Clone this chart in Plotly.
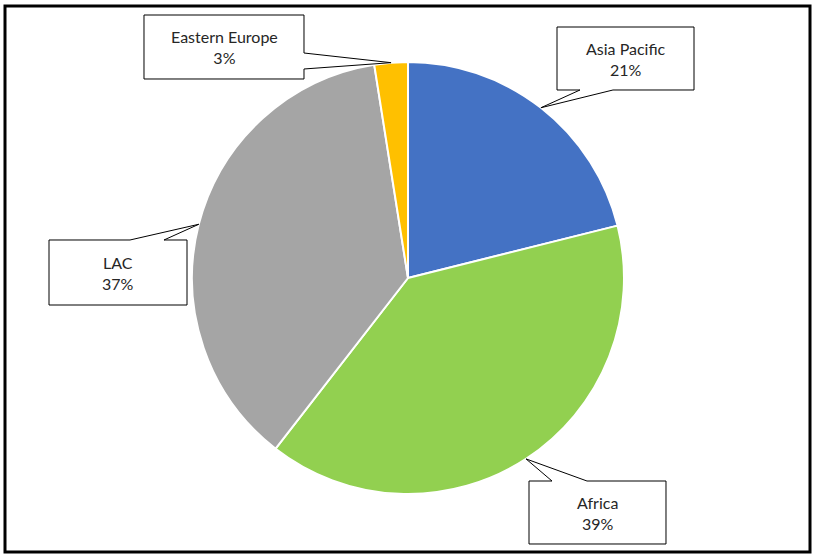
"""Pie chart with wedge callout labels, Excel style."""

import math

import plotly.graph_objects as go

W, H = 814, 555

regions = ["Asia Pacific", "Africa", "LAC", "Eastern Europe"]
shares = [21.1, 39.4, 37.0, 2.5]
colors = ["#4472C4", "#92D050", "#A5A5A5", "#FFC000"]

# pie geometry in pixels
CX, CY, R = 408, 278, 216

# callout boxes: (x0, y0, x1, y1), edge carrying the wedge, wedge base span along that edge
callouts = {
    "Asia Pacific": ((557, 27, 694, 90), "bottom", (580, 613)),
    "Africa": ((529, 481, 666, 544), "top", (552, 587)),
    "LAC": ((49, 240, 187, 305), "top", (130, 164)),
    "Eastern Europe": ((144, 15, 304, 79), "right", (53, 69)),
}


def px(x):
    return x / W


def py(y):
    return 1 - y / H


def pct_text(v, total):
    return f"{int(v / total * 100 + 0.5)}%"


fig = go.Figure(
    go.Pie(
        labels=regions,
        values=shares,
        sort=False,
        direction="clockwise",
        rotation=0,
        marker=dict(colors=colors, line=dict(color="white", width=2)),
        textinfo="none",
        hoverinfo="label+percent",
        domain=dict(x=[px(CX - R), px(CX + R)], y=[py(CY + R), py(CY - R)]),
        showlegend=False,
    )
)

total = sum(shares)
shapes = []
annotations = []
start = 0.0
for name, v in zip(regions, shares):
    sweep = v / total * 360
    mid = math.radians(start + sweep / 2)
    start += sweep
    tx, ty = CX + R * math.sin(mid), CY - R * math.cos(mid)

    (x0, y0, x1, y1), edge, (b0, b1) = callouts[name]
    if edge == "top":
        pts = [(x0, y0), (b0, y0), (tx, ty), (b1, y0), (x1, y0), (x1, y1), (x0, y1)]
    elif edge == "bottom":
        pts = [(x0, y0), (x1, y0), (x1, y1), (b1, y1), (tx, ty), (b0, y1), (x0, y1)]
    else:  # right
        pts = [(x0, y0), (x1, y0), (x1, b0), (tx, ty), (x1, b1), (x1, y1), (x0, y1)]
    path = "M " + " L ".join(f"{px(x):.5f},{py(y):.5f}" for x, y in pts) + " Z"
    shapes.append(
        dict(
            type="path",
            xref="paper",
            yref="paper",
            path=path,
            fillcolor="white",
            line=dict(color="black", width=1),
            layer="above",
        )
    )
    annotations.append(
        dict(
            x=px((x0 + x1) / 2),
            y=py((y0 + y1) / 2),
            xref="paper",
            yref="paper",
            text=f"{name}<br>{pct_text(v, total)}",
            showarrow=False,
            font=dict(family="Lato", size=16, color="#262626"),
            xanchor="center",
            yanchor="middle",
        )
    )

# outer chart frame
shapes.append(
    dict(
        type="rect",
        xref="paper",
        yref="paper",
        x0=px(5),
        x1=px(810),
        y0=py(552),
        y1=py(6),
        line=dict(color="black", width=3),
    )
)

fig.update_layout(
    width=W,
    height=H,
    margin=dict(l=0, r=0, t=0, b=0),
    paper_bgcolor="white",
    plot_bgcolor="white",
    shapes=shapes,
    annotations=annotations,
)

fig.write_html(
    "out.html",
    config={"displayModeBar": False},
    post_script="document.body.style.margin='0';",
)
